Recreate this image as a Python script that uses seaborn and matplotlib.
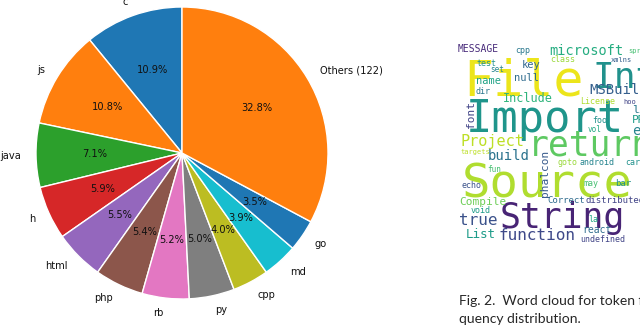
import numpy as np
import matplotlib
matplotlib.use('Agg')
import matplotlib.pyplot as plt
import seaborn as sns

# pie data (file extension share)
labels = ["c", "js", "java", "h", "html", "php", "rb", "py", "cpp", "md", "go", "Others (122)"]
shares = [10.9, 10.8, 7.1, 5.9, 5.5, 5.4, 5.2, 5.0, 4.0, 3.9, 3.5, 32.8]

# word cloud tokens, font size (pt) and viridis shade
words = ["File", "Int", "Import", "Source", "String", "return", "MSBuild", "microsoft",
         "Project", "build", "true", "function", "Include", "Compile", "List", "font",
         "phalcon", "MESSAGE", "null", "key", "name", "test", "cpp", "class", "set",
         "dir", "License", "foo", "vol", "targets", "goto", "android", "fun", "echo",
         "may", "bar", "Correct", "distributed", "void", "la", "react", "undefined",
         "xmlns", "hoo", "li", "PR", "er", "card", "spr"]
word_sizes = [36, 26, 31.5, 34, 25, 25, 10, 9.8, 11, 10, 11.5, 11.5, 8.5, 8, 9, 8,
              8, 7, 7.5, 7.5, 7.5, 6, 6, 6, 5.5, 6, 6, 6, 5.5, 5, 6, 6, 5.5, 6,
              6, 6.5, 6.5, 6.5, 6, 6, 7, 6, 5, 5, 8, 8, 10, 6, 5]
word_shades = [0.97, 0.5, 0.52, 0.88, 0.1, 0.75, 0.3, 0.62, 0.9, 0.38, 0.25, 0.22,
               0.65, 0.78, 0.55, 0.2, 0.28, 0.12, 0.35, 0.33, 0.58, 0.5, 0.4, 0.85,
               0.45, 0.4, 0.88, 0.5, 0.6, 0.9, 0.85, 0.45, 0.7, 0.25, 0.7, 0.5, 0.35,
               0.2, 0.55, 0.6, 0.35, 0.2, 0.3, 0.2, 0.4, 0.55, 0.45, 0.5, 0.7]
# layout of the cloud in pixels (left x, baseline y, rotation)
word_layout = [(463, 95, 0), (593, 88, 0), (466, 132, 0), (462, 197, 0), (500, 228, 0),
               (528, 155, 0), (589, 94, 0), (549, 55, 0), (460, 146, 0), (488, 160, 0),
               (459, 225, 0), (499, 240, 0), (503, 102, 0), (459, 205, 0), (466, 238, 0),
               (466, 115, 90), (540, 173, 90), (458, 52, 0), (514, 81, 0), (522, 68, 0),
               (476, 84, 0), (476, 66, 0), (515, 53, 0), (550, 62, 0), (490, 72, 0),
               (476, 94, 0), (580, 104, 0), (592, 123, 0), (588, 132, 0), (461, 154, 0),
               (557, 165, 0), (580, 165, 0), (487, 172, 0), (462, 188, 0), (583, 186, 0),
               (615, 186, 0), (547, 203, 0), (586, 203, 0), (471, 213, 0), (588, 222, 0),
               (582, 233, 0), (580, 242, 0), (611, 62, 0), (623, 104, 0), (632, 113, 0),
               (632, 123, 0), (632, 135, 0), (625, 165, 0), (628, 53, 0)]

caption = ["Fig. 2.  Word cloud for token fre-", "quency distribution."]

sns.set_style("white")
fig = plt.figure(figsize=(6.4, 3.3), dpi=100)

# pie axes: centre at (182, 153) px, radius 146 px
r = 146
ax = fig.add_axes([(182 - 1.25 * r) / 640, (177 - 1.25 * r) / 330, 2.5 * r / 640, 2.5 * r / 330])
colors = sns.color_palette("tab10", 10)
ax.pie(shares, labels=labels, colors=[colors[i % 10] for i in range(len(shares))],
       autopct="%1.1f%%", startangle=90, counterclock=True,
       textprops={"fontsize": 7.1, "color": "#111111"})
ax.set_xlim(-1.25, 1.25)
ax.set_ylim(-1.25, 1.25)

# word cloud drawn as text on a pixel overlay
wc = fig.add_axes([0, 0, 1, 1])
wc.set_xlim(0, 640)
wc.set_ylim(330, 0)
wc.axis("off")
wc.patch.set_alpha(0)
cmap = sns.color_palette("viridis", as_cmap=True)
for w, s, c, (x, y, rot) in zip(words, word_sizes, word_shades, word_layout):
    wc.text(x, y, w, fontsize=s, color=cmap(c), family="DejaVu Sans Mono",
            ha="left", va="baseline" if rot == 0 else "center", rotation=rot,
            rotation_mode="anchor" if rot == 0 else "default")

wc.text(459, 305, caption[0], fontsize=10, family="Lato", va="baseline", ha="left")
wc.text(459, 323, caption[1], fontsize=10, family="Lato", va="baseline", ha="left")

fig.savefig("out.png", dpi=100)
